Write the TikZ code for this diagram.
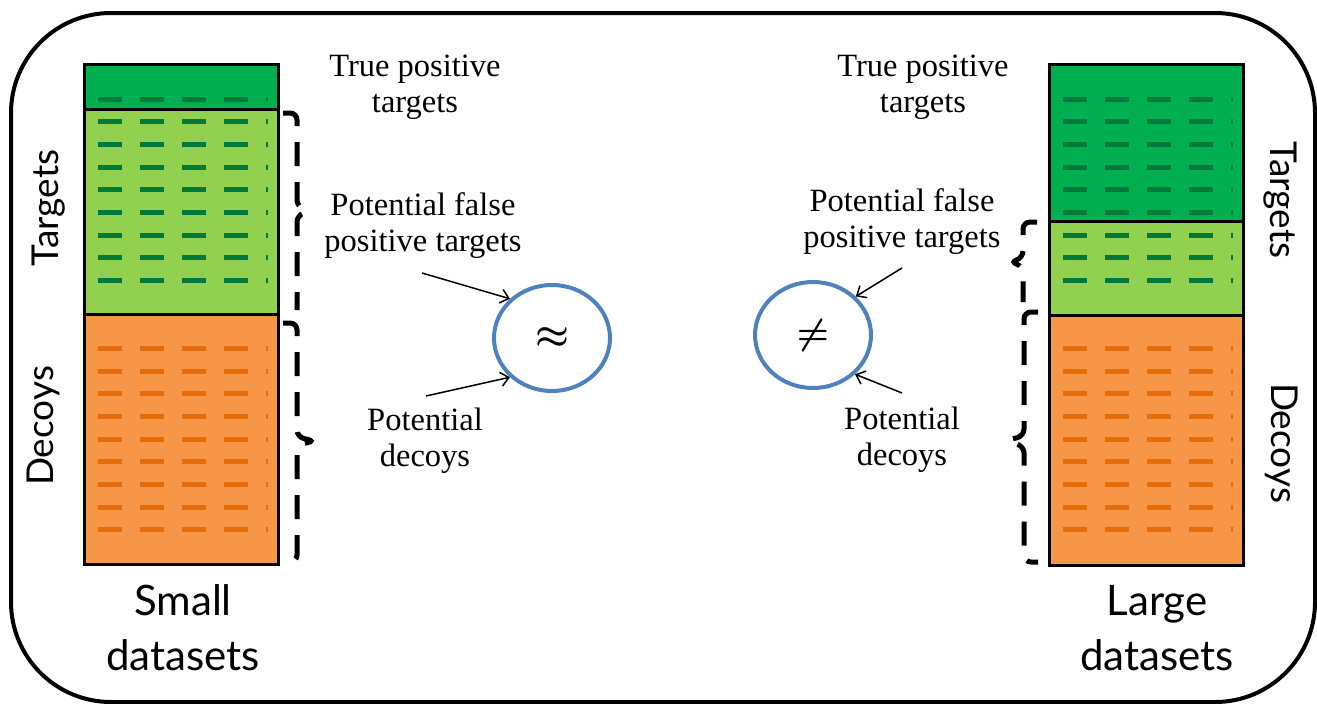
\documentclass[tikz,border=0pt]{standalone}
\usepackage{fontspec}
\usepackage{tikz}
\usetikzlibrary{shapes.geometric,arrows.meta,positioning,calc}
\setmainfont{Liberation Serif}
\newfontfamily\gillsans{Lato}
\definecolor{tgreen}{HTML}{00B050}
\definecolor{lgreen}{HTML}{92D050}
\definecolor{orng}{HTML}{F79646}
\definecolor{gdash}{HTML}{00793A}
\definecolor{odash}{HTML}{E46C0A}
\definecolor{cblue}{HTML}{4F81BD}

\begin{document}
\begin{tikzpicture}[
    x=1pt, y=-1pt,
    bar/.style={rectangle, draw=black, line width=3pt,
      minimum width=194pt, inner sep=0pt, outer sep=0pt},
    hatch/.style={line width=5pt, dash pattern=on 24pt off 18pt},
    brc/.style={line width=5pt, dash pattern=on 24pt off 16pt,
      rounded corners=7pt},
    lbl/.style={align=center, font=\fontsize{32.5}{36}\selectfont},
    side/.style={font=\gillsans\fontsize{37}{44}\selectfont},
    dset/.style={align=center, font=\gillsans\fontsize{42}{55}\selectfont},
    cmp/.style={ellipse, draw=cblue, line width=4pt, inner sep=0pt,
      minimum width=116pt, minimum height=106pt},
    arr/.style={-{Straight Barb[length=8pt, width=14pt]}, line width=1.5pt},
  ]
    \useasboundingbox (0,0) rectangle (1317,704);
    \draw[line width=4pt, rounded corners=100pt] (11,13) rectangle (1315,702);

    % Small datasets
    \node[bar, fill=tgreen, minimum height=45pt, anchor=north west] (smalltp) at (84,64) {};
    \node[bar, fill=lgreen, minimum height=205pt, below=0pt of smalltp] (smallfp) {};
    \node[bar, fill=orng, minimum height=250pt, below=0pt of smallfp] (smalldec) {};

    % Large datasets
    \node[bar, fill=tgreen, minimum height=157pt, anchor=north west] (largetp) at (1049,64) {};
    \node[bar, fill=lgreen, minimum height=94pt, below=0pt of largetp] (largefp) {};
    \node[bar, fill=orng, minimum height=250pt, below=0pt of largefp] (largedec) {};

    % dashed rows inside the bars
    \foreach \x in {84,1049}
      \foreach \i in {0,...,8} {
        \draw[hatch, gdash] (\x+14, 99+\i*22.67) -- (\x+184, 99+\i*22.67);
        \draw[hatch, odash] (\x+14, 348.5+\i*22.67) -- (\x+184, 348.5+\i*22.67);
      }

    % Braces
    \draw[brc] (283,113) -- (297,113) -- (297,207) -- (311,211) -- (297,215) -- (297,310);
    \draw[brc] (283,323) -- (297,323) -- (297,437) -- (315,441) -- (297,445) -- (297,562) -- (283,562);
    \draw[brc] (1037,222) -- (1023,222) -- (1023,258) -- (1010,262) -- (1023,266) -- (1023,302);
    \draw[brc] (1038,312) -- (1024,312) -- (1024,436) -- (1004,441) -- (1024,446) -- (1024,562) -- (1038,562);

    % Labels
    \node[lbl] (tpsmall) at (415,87) {True positive\\targets};
    \node[lbl] (fpsmall) at (423,226) {Potential false\\positive targets};
    \node[lbl] (decsmall) at (425,441) {Potential\\decoys};
    \node[lbl] (tplarge) at (923,87) {True positive\\targets};
    \node[lbl] (fplarge) at (902,222) {Potential false\\positive targets};
    \node[lbl] (declarge) at (902,440) {Potential\\decoys};

    \node[side, rotate=90] (tgtsmall) at (49,208) {Targets};
    \node[side, rotate=90] (decoysmall) at (43,426) {Decoys};
    \node[side, rotate=-90] (tgtlarge) at (1280,200) {Targets};
    \node[side, rotate=-90] (decoylarge) at (1282,443) {Decoys};

    \node[dset] (smallname) at (183,628) {Small\\datasets};
    \node[dset] (largename) at (1157,628) {Large\\datasets};

    % Comparison circles
    \node[cmp] (approx) at (552,338) {\scalebox{3.8}{\boldmath$\approx$}};
    \node[cmp] (neq) at (813,335) {\scalebox{3.6}{\boldmath$\neq$}};

    % Arrows
    \coordinate (fpsmallend) at (422,273);
    \coordinate (decsmallend) at (426,396);
    \coordinate (fplargeend) at (902,268);
    \coordinate (declargeend) at (902,393);
    \draw[arr] (fpsmallend) -- (approx.137);
    \draw[arr] (decsmallend) -- (approx.223);
    \draw[arr] (fplargeend) -- (neq.42);
    \draw[arr] (declargeend) -- (neq.-43);
  \end{tikzpicture}
\end{document}
